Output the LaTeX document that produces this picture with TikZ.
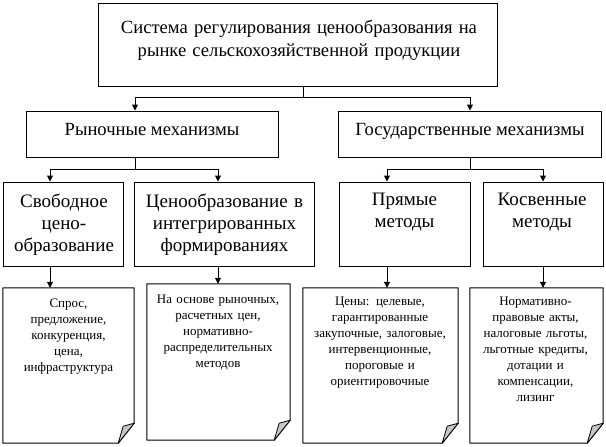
\documentclass[tikz,border=0pt]{standalone}
\usepackage{fontspec}
\setmainfont{Liberation Serif}
\usetikzlibrary{arrows.meta,calc}
\begin{document}
\begin{tikzpicture}[x=1pt,y=-1pt,
  box/.style={draw, line width=1pt, inner sep=0pt},
  arr/.style={draw, line width=1pt, -{Triangle[length=6pt,width=6pt]}},
  ln/.style={draw, line width=1pt},
  big/.style={font=\fontsize{18.6}{24}\selectfont, align=center, inner sep=0pt},
  mid/.style={font=\fontsize{19}{22}\selectfont, align=center, inner sep=0pt, anchor=base},
  small/.style={font=\fontsize{13}{16}\selectfont, align=center, inner sep=0pt, anchor=base},
  doc/.style={inner sep=0pt},
  fold/.style={fill=gray!45, draw, line width=0.8pt, line join=round}]
\useasboundingbox (0,0) rectangle (606,447);
% boxes
\node[box, minimum width=399pt, minimum height=83pt] (top) at (297.5,44.5) {};
\node[big, text width=395pt, anchor=base] (topt) at (299,33) {Система регулирования ценообразования на\\рынке сельскохозяйственной продукции};
\node[box, minimum width=252pt, minimum height=46pt] (rm) at (152,134) {};
\node[big, anchor=base] (rmt) at (152,135) {Рыночные механизмы};
\node[box, minimum width=263pt, minimum height=46pt] (gm) at (469.5,134) {};
\node[big, anchor=base] (gmt) at (470,135) {Государственные механизмы};
\node[box, minimum width=120pt, minimum height=84pt] (b1) at (63,224) {};
\node[mid, text width=115pt] (b1t) at (64,207) {Свободное\\цено-\\образование};
\node[box, minimum width=180pt, minimum height=84pt] (b2) at (224,224) {};
\node[mid, text width=175pt] (b2t) at (224.5,207) {Ценообразование в\\интегрированных\\формированиях};
\node[box, minimum width=131pt, minimum height=84pt] (b3) at (404.5,224) {};
\node[mid, text width=125pt] (b3t) at (404.5,205) {Прямые\\методы};
\node[box, minimum width=120pt, minimum height=84pt] (b4) at (543,224) {};
\node[mid, text width=115pt] (b4t) at (542,205) {Косвенные\\методы};
% documents
\node[doc, minimum width=131pt, minimum height=155pt] (d1) at (68.5,365.5) {};
\node[doc, minimum width=143pt, minimum height=156pt] (d2) at (218.5,362) {};
\node[doc, minimum width=155pt, minimum height=155pt] (d3) at (380.5,365.5) {};
\node[doc, minimum width=133pt, minimum height=155pt] (d4) at (536.5,365.5) {};
\foreach \d in {d1,d2,d3,d4} {
  \draw[ln, line join=round] (\d.north west) -- (\d.north east) -- ($(\d.south east)+(0,-20)$) -- ($(\d.south east)+(-16,0)$) -- (\d.south west) -- cycle;
  \draw[fold] ($(\d.south east)+(-16,0)$) -- ($(\d.south east)+(-11,-17)$) -- ($(\d.south east)+(0,-20)$) -- cycle;
}
\node[small, text width=127pt] (d1t) at (68.5,307) {Спрос,\\предложение,\\конкуренция,\\цена,\\инфраструктура};
\node[small, text width=140pt] (d2t) at (218,303) {На основе рыночных,\\расчетных цен,\\нормативно-\\распределительных\\методов};
\node[small, text width=152pt] (d3t) at (380,305) {Цены: целевые,\\гарантированные\\закупочные, залоговые,\\интервенционные,\\пороговые и\\ориентировочные};
\node[small, text width=130pt] (d4t) at (535.5,305) {Нормативно-\\правовые акты,\\налоговые льготы,\\льготные кредиты,\\дотации и\\компенсации,\\лизинг};
% connectors
\coordinate (xa) at (135,0);
\coordinate (xb) at (470,0);
\coordinate (x1) at (50,0);
\coordinate (x2) at (218,0);
\coordinate (x3) at (387,0);
\coordinate (x4) at (543,0);
\coordinate (bus0) at (303,97);
\coordinate (bus1) at (135,169);
\coordinate (bus2) at (470,169);
\draw[ln] (top.south -| bus0) -- (bus0);
\draw[arr] (bus0) -| (rm.north -| xa);
\draw[arr] (bus0) -| (gm.north -| xb);
\draw[ln] (rm.south -| bus1) -- (bus1);
\draw[arr] (bus1) -| (b1.north -| x1);
\draw[arr] (bus1) -| (b2.north -| x2);
\draw[ln] (gm.south -| bus2) -- (bus2);
\draw[arr] (bus2) -| (b3.north -| x3);
\draw[arr] (bus2) -| (b4.north -| x4);
\draw[arr] (b1.south -| x1) -- (d1.north -| x1);
\draw[arr] (b2.south -| x2) -- (d2.north -| x2);
\draw[arr] (b3.south -| x3) -- (d3.north -| x3);
\draw[arr] (b4.south -| x4) -- (d4.north -| x4);
\end{tikzpicture}
\end{document}
